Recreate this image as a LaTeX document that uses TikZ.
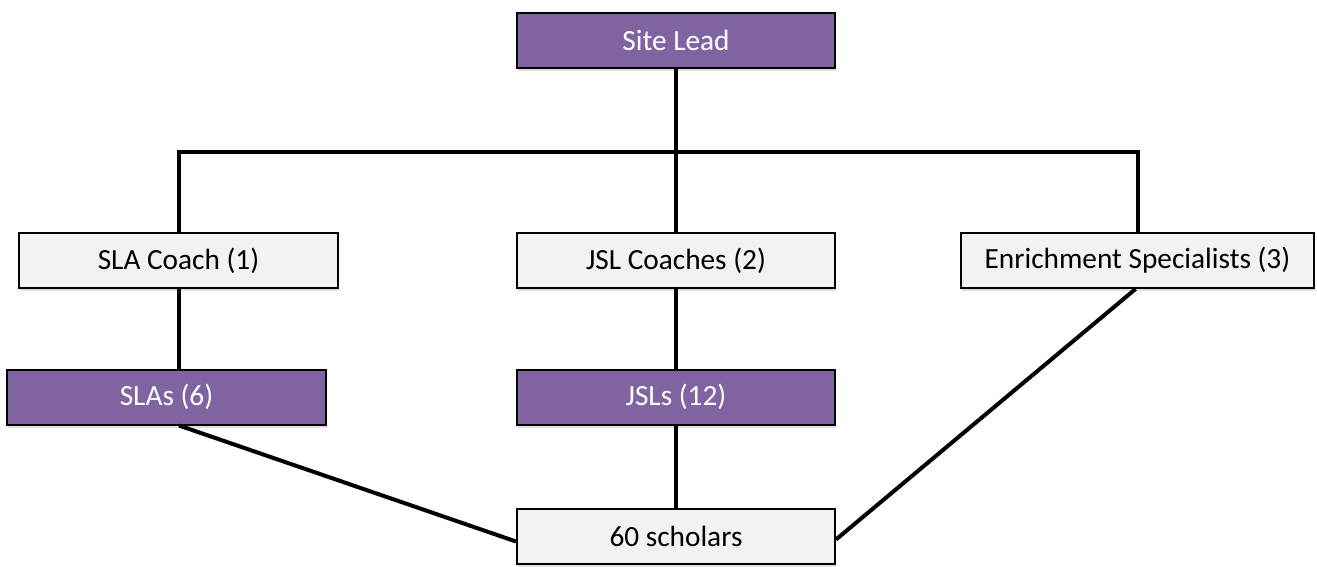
\documentclass[tikz,border=0pt]{standalone}
\usepackage{fontspec}
\setmainfont{Carlito}
\usetikzlibrary{shadows}
\definecolor{boxpurple}{HTML}{8064A2}
\definecolor{boxgray}{HTML}{F2F2F2}
\tikzset{
  base/.style={draw=black, line width=2pt, minimum height=55pt, inner sep=0pt,
    font=\fontsize{29.3}{34}\selectfont,
    drop shadow={shadow xshift=1pt, shadow yshift=-3pt, fill=black, opacity=0.12}},
  purplebox/.style={base, fill=boxpurple, text=white},
  graybox/.style={base, fill=boxgray, text=black},
  link/.style={line width=4pt, line join=miter, draw=black}
}
\begin{document}
\begin{tikzpicture}[x=1pt,y=-1pt]
\useasboundingbox (0,0) rectangle (1317,567);
\coordinate (barL) at (178.5,152);
\coordinate (barR) at (1138,152);
\node[purplebox, minimum width=318pt] (sl) at (676,40.5) {Site Lead};
\node[graybox, minimum width=319pt] (slac) at (178.5,260.5) {SLA Coach (1)};
\node[graybox, minimum width=318pt] (jslc) at (676,260.5) {JSL Coaches (2)};
\node[graybox, minimum width=353pt] (ens) at (1137.5,260.5) {Enrichment Specialists (3)};
\node[purplebox, minimum width=319pt] (slas) at (166.5,397) {SLAs (6)};
\node[purplebox, minimum width=318pt] (jsls) at (676,397) {JSLs (12)};
\node[graybox, minimum width=318pt] (sch) at (676,536.5) {60 scholars};
\draw[link] (sl.south) -- (jslc.north);
\draw[link] (slac.north) -- (barL) -- (barR) -- (barR |- ens.north);
\draw[link] (slac.south) -- (slac.south |- slas.north);
\draw[link] (jslc.south) -- (jsls.north);
\draw[link] (jsls.south) -- (sch.north);
\draw[link] ([xshift=12.5pt]slas.south) -- ([yshift=-5pt]sch.west);
\draw[link] ([xshift=-2pt]ens.south) -- ([yshift=-3pt]sch.east);
\end{tikzpicture}
\end{document}
